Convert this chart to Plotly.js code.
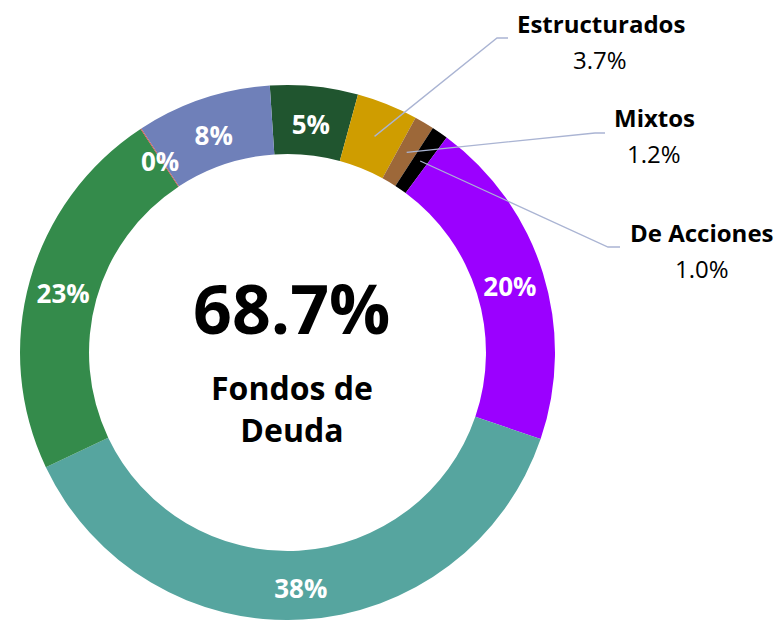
<!DOCTYPE html>
<html>
<head>
<meta charset="utf-8">
<script src="https://cdn.plot.ly/plotly-3.0.1.min.js"></script>
<style>
  html, body { margin: 0; padding: 0; background: #ffffff; }
  #chart { width: 781px; height: 620px; }
</style>
</head>
<body>
<div id="chart"></div>
<script>
// ---- Data ----
const categories = ['Otros', 'Estructurados', 'Mixtos', 'De Acciones', 'Deuda Corto Plazo',
                    'Deuda Mediano Plazo', 'Deuda Largo Plazo', 'Deuda Otros', 'Deuda Gubernamental'];
const shares = [5.3, 3.7, 1.2, 1.0, 20.1, 37.7, 22.8, 0.05, 8.15];
const sliceColors = ['#20552f', '#cf9d00', '#9d6839', '#000000', '#9b00ff',
                     '#56a59f', '#348b4b', '#e0403a', '#6f80b9'];
const showInside = [true, false, false, false, true, true, true, false, true];
const calloutIdx = [1, 2, 3];          // slices labelled outside with leader lines
const debtIdx = [5, 6, 7, 8];          // slices making up "Fondos de Deuda"
const tinyIdx = 7;                     // 0% slice, labelled separately
const centerCaption = ['Fondos de', 'Deuda'];

// ---- Geometry ----
const W = 781, H = 620;
const dom = { x: [20 / W, 555 / W], y: [0, 535 / H] };
const cx = (dom.x[0] + dom.x[1]) / 2 * W;
const cy = H - (dom.y[0] + dom.y[1]) / 2 * H;
const rotation = -3.8;
const total = shares.reduce((a, b) => a + b, 0);

function midAngle(i) {
  let cum = 0;
  for (let k = 0; k < i; k++) cum += shares[k];
  return (rotation + (cum + shares[i] / 2) / total * 360) * Math.PI / 180;
}
function polar(i, r) {
  const a = midAngle(i);
  return [cx + r * Math.sin(a), cy - r * Math.cos(a)];
}
const px = x => x / W;
const py = y => 1 - y / H;

const trace = {
  type: 'pie',
  labels: categories,
  values: shares,
  sort: false,
  direction: 'clockwise',
  rotation: rotation,
  hole: 0.742,
  domain: dom,
  marker: { colors: sliceColors, line: { width: 0 } },
  texttemplate: '%{percent:.0%}',
  textposition: showInside.map(s => s ? 'inside' : 'none'),
  insidetextorientation: 'horizontal',
  textfont: { family: 'Open Sans', size: 26, color: '#ffffff', weight: 700 },
  hoverinfo: 'none',
  showlegend: false
};

// ---- Callouts ----
const calloutPos = {
  1: { name: [601, 23], pct: [600, 59], elbow: [[497, 38], [508, 38]] },
  2: { name: [654, 117], pct: [654, 153], elbow: [[595, 133], [605, 133]] },
  3: { name: [702, 232], pct: [702, 268], elbow: [[608, 247], [620, 247]] }
};
const annotations = [];
const shapes = [];
calloutIdx.forEach(i => {
  const p = calloutPos[i];
  const a = polar(i, 233);
  const path = 'M' + px(a[0]) + ',' + py(a[1]) +
               ' L' + px(p.elbow[0][0]) + ',' + py(p.elbow[0][1]) +
               ' L' + px(p.elbow[1][0]) + ',' + py(p.elbow[1][1]);
  shapes.push({ type: 'path', xref: 'paper', yref: 'paper', path: path,
                line: { color: '#aab4d3', width: 1.3 } });
  annotations.push({ xref: 'paper', yref: 'paper', x: px(p.name[0]), y: py(p.name[1]),
    text: '<b>' + categories[i] + '</b>', showarrow: false, xanchor: 'center', yanchor: 'middle',
    font: { family: 'Open Sans', size: 24, color: '#000000' } });
  annotations.push({ xref: 'paper', yref: 'paper', x: px(p.pct[0]), y: py(p.pct[1]),
    text: (shares[i] / total * 100).toFixed(1) + '%', showarrow: false, xanchor: 'center', yanchor: 'middle',
    font: { family: 'Open Sans', size: 24, color: '#000000' } });
});

// "0%" label for the tiny slice
const tiny = polar(tinyIdx, 232);
annotations.push({ xref: 'paper', yref: 'paper', x: px(tiny[0]), y: py(tiny[1] + 3),
  text: '<b>' + Math.round(shares[tinyIdx] / total * 100) + '%</b>', showarrow: false,
  xanchor: 'center', yanchor: 'middle',
  font: { family: 'Open Sans', size: 26, color: '#ffffff' } });

// Center text
const debtShare = debtIdx.reduce((s, i) => s + shares[i], 0) / total * 100;
annotations.push({ xref: 'paper', yref: 'paper', x: px(cx + 4), y: py(307),
  text: '<b>' + debtShare.toFixed(1) + '%</b>', showarrow: false, xanchor: 'center', yanchor: 'middle',
  font: { family: 'Open Sans', size: 68, color: '#000000' } });
annotations.push({ xref: 'paper', yref: 'paper', x: px(cx + 4), y: py(408),
  text: '<b>' + centerCaption.join('<br>') + '</b>', showarrow: false, xanchor: 'center', yanchor: 'middle',
  font: { family: 'Open Sans', size: 32, color: '#000000' } });

const layout = {
  width: W, height: H,
  margin: { l: 0, r: 0, t: 0, b: 0 },
  paper_bgcolor: '#ffffff',
  plot_bgcolor: '#ffffff',
  showlegend: false,
  font: { family: 'Open Sans' },
  annotations: annotations,
  shapes: shapes
};

Plotly.newPlot('chart', [trace], layout, { displayModeBar: false, staticPlot: true }).then(gd => {
  // nudge the in-slice percentage labels a few pixels down to match the reference's baseline
  gd.querySelectorAll('.pielayer .slicetext text').forEach(t => t.setAttribute('dy', '3'));
});
</script>
</body>
</html>
